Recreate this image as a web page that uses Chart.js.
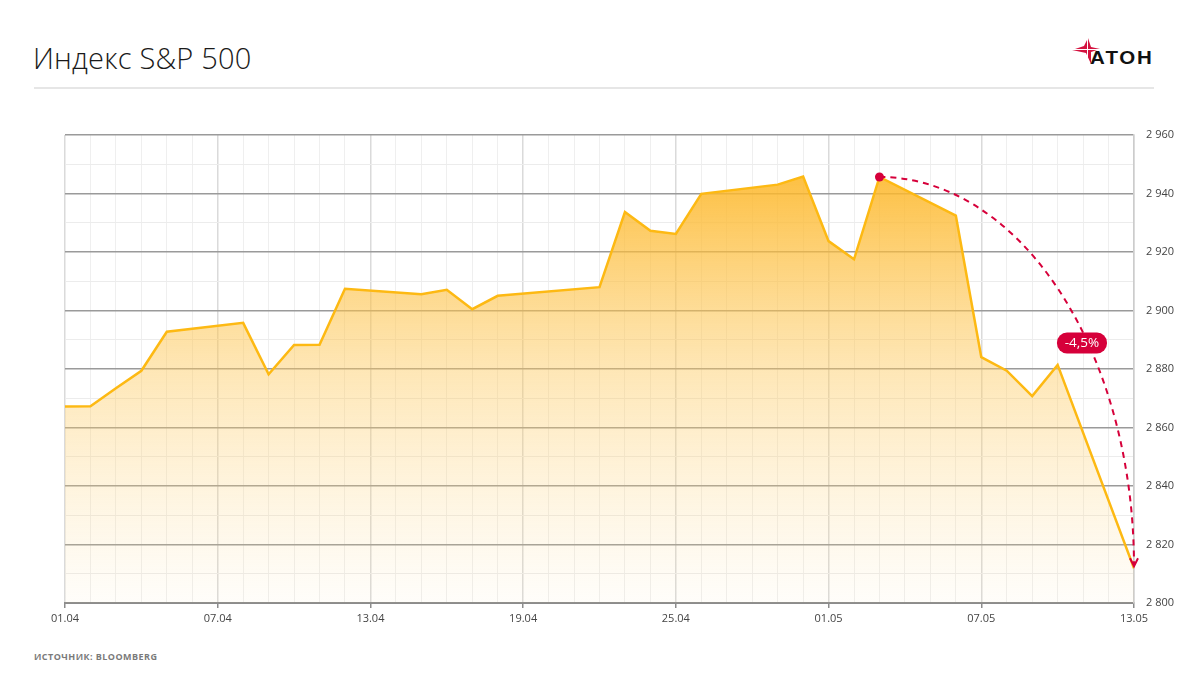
<!DOCTYPE html>
<html lang="ru">
<head>
<meta charset="utf-8">
<title>Индекс S&amp;P 500</title>
<script src="https://cdn.jsdelivr.net/npm/chart.js@4/dist/chart.umd.min.js"></script>
<style>
    html, body { margin: 0; padding: 0; background: #fff; }
    body { width: 1200px; height: 675px; position: relative; overflow: hidden; font-family: 'Open Sans', 'Noto Sans', sans-serif; }
    .title { position: absolute; left: 33px; top: 38px; font-size: 29px; font-weight: 300; color: #1a1a1a; letter-spacing: 0.2px; }
    .rule { position: absolute; left: 34px; top: 87px; width: 1120px; height: 2px; background: #e6e6e6; }
    .logo { position: absolute; left: 1072px; top: 37px; width: 90px; height: 30px; }
    .logo span { position: absolute; left: 18px; top: 11.5px; line-height: 1; font-family: 'Liberation Sans', Arial, sans-serif; font-weight: 700; font-size: 18px; letter-spacing: 1.5px; color: #111; transform: scaleX(1.14); transform-origin: 0 0; }
    .source { position: absolute; left: 34px; top: 650px; font-size: 9px; font-weight: 700; letter-spacing: 0.45px; color: #7a7a7a; }
    .chart-box { position: absolute; left: 0; top: 100px; width: 1200px; height: 540px; }
</style>
</head>
<body>
<div class="title">Индекс S&amp;P 500</div>
<div class="logo">
    <svg width="30" height="30" viewBox="0 0 30 30" style="position:absolute;left:0;top:0">
        <polygon points="16,1 19,10 28,12 19,15 19,27 14,16 0,13 12,9" fill="#d4123f"/>
        <line x1="15.5" y1="0" x2="15.5" y2="28" stroke="#fff" stroke-width="1"/>
        <line x1="0" y1="12.5" x2="29" y2="12.5" stroke="#fff" stroke-width="1"/>
    </svg>
    <span>АТОН</span>
</div>
<div class="rule"></div>
<div class="chart-box"><canvas id="chart"></canvas></div>
<div class="source">ИСТОЧНИК: BLOOMBERG</div>

<script>
(function () {
    'use strict';

    // Trading dates (DD.MM) and S&P 500 close values
    var dates = [
        '01.04', '02.04', '03.04', '04.04', '05.04', '08.04', '09.04', '10.04', '11.04', '12.04',
        '15.04', '16.04', '17.04', '18.04', '22.04', '23.04', '24.04', '25.04', '26.04', '29.04',
        '30.04', '01.05', '02.05', '03.05', '06.05', '07.05', '08.05', '09.05', '10.05', '13.05'
    ];
    var closes = [
        2867.19, 2867.24, 2873.40, 2879.39, 2892.74, 2895.77, 2878.20, 2888.21, 2888.32, 2907.41,
        2905.58, 2907.06, 2900.45, 2905.03, 2907.97, 2933.68, 2927.25, 2926.17, 2939.88, 2943.03,
        2945.83, 2923.73, 2917.52, 2945.64, 2932.47, 2884.05, 2879.42, 2870.72, 2881.40, 2811.87
    ];
    var xTickLabels = ['01.04', '07.04', '13.04', '19.04', '25.04', '01.05', '07.05', '13.05'];
    var yMin = 2800, yMax = 2960;
    var dropLabel = '-4,5%';
    var dropFrom = '03.05', dropTo = '13.05';

    var RED = '#d6003a';
    var LINE = '#fdb913';

    // day index counted from 01.04
    function dayIndex(s) {
        var p = s.split('.');
        var d = parseInt(p[0], 10), m = parseInt(p[1], 10);
        return m === 4 ? d - 1 : 30 + d - 1;
    }

    var points = dates.map(function (d, i) {
        return { x: dayIndex(d), y: closes[i] };
    });

    function fmtThousands(v) {
        var s = String(Math.round(v));
        return s.replace(/\B(?=(\d{3})+(?!\d))/g, ' ');
    }

    var dropPlugin = {
        id: 'drop',
        afterDatasetsDraw: function (chart) {
            var ctx = chart.ctx;
            var xs = chart.scales.x, ys = chart.scales.y;
            var i0 = dates.indexOf(dropFrom), i1 = dates.indexOf(dropTo);
            var x0 = xs.getPixelForValue(points[i0].x), y0 = ys.getPixelForValue(points[i0].y);
            var x1 = xs.getPixelForValue(points[i1].x), y1 = ys.getPixelForValue(points[i1].y) - 2;
            var rx = x1 - x0, ry = y1 - y0;

            ctx.save();
            ctx.strokeStyle = RED;
            ctx.lineWidth = 2;
            ctx.setLineDash([6, 5]);
            ctx.beginPath();
            ctx.ellipse(x0, y1, rx, ry, 0, -Math.PI / 2, 0, false);
            ctx.stroke();

            // arrow head
            ctx.setLineDash([]);
            ctx.beginPath();
            ctx.moveTo(x1 - 4, y1 - 8);
            ctx.lineTo(x1, y1);
            ctx.lineTo(x1 + 4, y1 - 8);
            ctx.stroke();

            // start dot
            ctx.fillStyle = RED;
            ctx.beginPath();
            ctx.arc(x0, y0, 4.5, 0, Math.PI * 2);
            ctx.fill();

            // label pill on the arc
            var a = 35 * Math.PI / 180;
            var lx = x0 + rx * Math.cos(a) - 6, ly = y1 - ry * Math.sin(a);
            var w = 50, h = 21;
            ctx.beginPath();
            ctx.roundRect(lx - w / 2, ly - h / 2, w, h, 10);
            ctx.fill();
            ctx.fillStyle = '#fff';
            ctx.font = '13.5px "Open Sans", "Noto Sans", sans-serif';
            ctx.textAlign = 'center';
            ctx.textBaseline = 'middle';
            ctx.fillText(dropLabel, lx, ly + 0.5);
            ctx.restore();
        }
    };

    var canvas = document.getElementById('chart');
    new Chart(canvas, {
        type: 'line',
        data: {
            datasets: [{
                data: points,
                borderColor: LINE,
                borderWidth: 2.5,
                pointRadius: 0,
                tension: 0,
                fill: 'start',
                backgroundColor: function (c) {
                    var area = c.chart.chartArea;
                    if (!area) return 'rgba(253,185,19,0.3)';
                    var g = c.chart.ctx.createLinearGradient(0, area.top + 40, 0, area.bottom);
                    g.addColorStop(0, 'rgba(253,183,40,0.88)');
                    g.addColorStop(0.45, 'rgba(253,200,90,0.45)');
                    g.addColorStop(1, 'rgba(253,220,150,0.05)');
                    return g;
                },
            }],
        },
        options: {
            responsive: true,
            maintainAspectRatio: false,
            animation: false,
            layout: { padding: { left: 65, top: 35, right: 0, bottom: 0 } },
            plugins: {
                legend: { display: false },
                tooltip: { enabled: false },
            },
            scales: {
                x: {
                    type: 'linear',
                    min: 0,
                    max: 42,
                    afterFit: function (s) { s.height = 37; },
                    ticks: {
                        stepSize: 1,
                        autoSkip: false,
                        maxRotation: 0,
                        padding: 4,
                        color: '#444',
                        font: { family: '"Open Sans", "Noto Sans", sans-serif', size: 11 },
                        callback: function (v) {
                            return v % 6 === 0 ? xTickLabels[v / 6] : '';
                        },
                    },
                    grid: {
                        drawTicks: true,
                        tickLength: 5,
                        tickColor: function (c) { return c.tick && c.tick.value % 6 === 0 ? '#8c8c8c' : 'rgba(0,0,0,0)'; },
                        color: function (c) { return c.tick && c.tick.value % 6 === 0 ? '#dadada' : '#efefef'; },
                        lineWidth: function (c) { return c.tick && c.tick.value % 6 === 0 ? 1.5 : 1; },
                    },
                    border: { color: '#8c8c8c', width: 2 },
                },
                y: {
                    position: 'right',
                    min: yMin,
                    max: yMax,
                    afterFit: function (s) { s.width = 66; },
                    ticks: {
                        stepSize: 10,
                        autoSkip: false,
                        padding: 12,
                        color: '#444',
                        font: { family: '"Open Sans", "Noto Sans", sans-serif', size: 11 },
                        callback: function (v) {
                            return v % 20 === 0 ? fmtThousands(v) : '';
                        },
                    },
                    grid: {
                        drawTicks: false,
                        color: function (c) { return c.tick && c.tick.value % 20 === 0 ? '#9a9a9a' : '#ececec'; },
                        lineWidth: function (c) { return c.tick && c.tick.value % 20 === 0 ? 1.5 : 1; },
                    },
                    border: { color: '#cccccc', width: 1.5 },
                },
            },
        },
        plugins: [dropPlugin],
    });
})();
</script>
</body>
</html>
